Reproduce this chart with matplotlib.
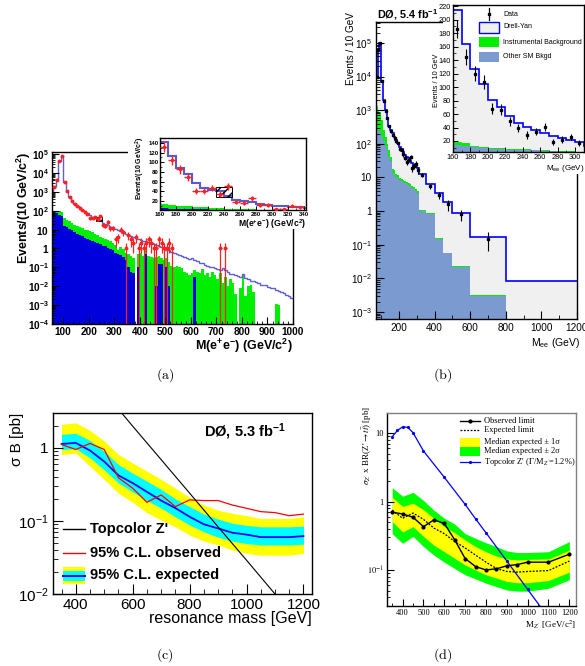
import numpy as np
import matplotlib
matplotlib.use("Agg")
import matplotlib.pyplot as plt
from matplotlib.patches import Rectangle
from matplotlib.lines import Line2D
from matplotlib.ticker import FixedLocator, MultipleLocator, LogLocator, NullFormatter

plt.rcParams['font.family'] = ['Liberation Sans', 'DejaVu Sans']
plt.rcParams['mathtext.fontset'] = 'custom'
plt.rcParams['mathtext.rm'] = 'Liberation Sans'
plt.rcParams['mathtext.it'] = 'Liberation Sans:italic'
plt.rcParams['mathtext.bf'] = 'Liberation Sans:bold'
plt.rcParams['mathtext.sf'] = 'Liberation Sans'
plt.rcParams['xtick.direction'] = 'in'
plt.rcParams['ytick.direction'] = 'in'
plt.rcParams['axes.linewidth'] = 1.0

W, H = 585, 666
SERIF = ['Liberation Serif', 'DejaVu Serif']

# ======================= DATA =======================
# ---- (a) dielectron invariant mass, events per 10 GeV bins from 50 GeV
a_bin_edges = np.arange(50, 1001, 10)
a_mc_total = np.array([
    1000, 2000, 4500, 45000, 75000, 3500, 1100, 550, 330, 230,
    175, 142, 112, 88, 75, 58, 47, 42, 40, 31,
    23, 20, 17, 14.5, 12.5,
    10.5, 9.2, 8.0, 7.0, 6.0, 5.3, 4.6, 4.0, 3.5, 3.1,
    2.8, 2.6, 2.4, 2.2, 2.0, 1.75, 1.5, 1.3, 1.15, 1.0,
    0.88, 0.78, 0.68, 0.6, 0.52, 0.46, 0.41, 0.36, 0.32, 0.28,
    0.33, 0.24, 0.21, 0.18, 0.16, 0.14, 0.125, 0.11, 0.10, 0.09,
    0.085, 0.075, 0.095, 0.07, 0.06, 0.045, 0.042, 0.04, 0.035, 0.032,
    0.045, 0.028, 0.024, 0.02, 0.018, 0.016, 0.014, 0.012, 0.011, 0.012,
    0.009, 0.008, 0.0085, 0.006, 0.0055, 0.0048, 0.0042, 0.0036, 0.003, 0.0025])
a_bkg_sum = np.array([
    90, 95, 95, 92, 88, 40, 32, 27, 22, 18,
    15, 13, 11.5, 10, 9, 8, 7, 6, 5, 4.2,
    3.6, 3.2, 2.8, 2.4, 2.0,
    1.5, 0.8, 1.2, 0.9, 0.6, 0.5, 0.4, 0.3, 0, 0.5,
    0.6, 0.4, 0.8, 0.4, 0.35, 0.3, 0.35, 0.4, 0.3, 0.25,
    0.3, 0.2, 0.12, 0.1, 0.12, 0.1, 0.09, 0.06, 0.05, 0.04,
    0.05, 0.07, 0.06, 0.05, 0.08, 0.04, 0.05, 0.03, 0.06, 0.04,
    0.025, 0.05, 0.015, 0.03, 0.01, 0.025, 0.015, 0.004, 0, 0.008,
    0.04, 0.003, 0.01, 0.012, 0.005, 0, 0, 0, 0, 0,
    0, 0, 0, 0.0012, 0.001, 0, 0, 0, 0, 0])
a_other_sm = np.array([
    70, 75, 72, 60, 55, 16, 14, 11, 9, 7.5,
    6, 5, 4.3, 3.8, 3.3, 2.9, 2.6, 2.3, 2.0, 1.7,
    1.4, 1.3, 1.1, 0.9, 0.8,
    0.6, 0.5, 0.45, 0.35, 0.25, 0.1, 0.06, 0.05, 0, 0.1,
    0, 0, 0.5, 0, 0, 0, 0.01, 0.15, 0.15, 0,
    0.1, 0.01, 0, 0, 0, 0, 0, 0, 0, 0,
    0, 0.03, 0, 0, 0, 0, 0, 0, 0, 0,
    0, 0, 0, 0, 0, 0, 0, 0, 0, 0,
    0, 0, 0, 0, 0, 0, 0, 0, 0, 0,
    0, 0, 0, 0, 0, 0, 0, 0, 0, 0])
a_data = np.array([
    0, 1800, 4200, 42000, 78000, 3300, 1050, 560, 320, 240,
    170, 132, 105, 86, 70, 40, 41, 47, 35, 50,
    18, 16, 26, 12, 12,
    3, 4, 10, 7, 1, 5, 3, 2, 4, 1,
    2, 1, 2, 3, 2, 1, 1, 3, 2, 1,
    1, 2, 1, 0, 0, 0, 0, 0, 0, 0,
    0, 0, 0, 0, 0, 0, 0, 0, 0, 0,
    0, 1, 0, 1, 0, 0, 0, 0, 0, 0,
    0, 0, 0, 0, 0, 0, 0, 0, 0, 0,
    0, 0, 0, 0, 0, 0, 0, 0, 0, 0])
a_syst_box_mass = [230, 250]
a_syst_box_events = [28, 48]
a_xticks = [100, 200, 300, 400, 500, 600, 700, 800, 900, 1000]
a_yticks = [1e-4, 1e-3, 1e-2, 1e-1, 1, 10, 1e2, 1e3, 1e4, 1e5]
a_ytick_labels = [r'$\mathbf{10^{-4}}$', r'$\mathbf{10^{-3}}$', r'$\mathbf{10^{-2}}$',
                  r'$\mathbf{10^{-1}}$', r'$\mathbf{1}$', r'$\mathbf{10}$',
                  r'$\mathbf{10^{2}}$', r'$\mathbf{10^{3}}$', r'$\mathbf{10^{4}}$',
                  r'$\mathbf{10^{5}}$']
a_inset_xticks = [160, 180, 200, 220, 240, 260, 280, 300, 320, 340]
a_inset_yticks = [20, 40, 60, 80, 100, 120, 140]

# ---- (b) dielectron mass, events per 10 GeV, variable bins
b_bin_edges = np.array([70, 80, 90, 100, 110, 120, 130, 140, 150, 160, 170, 180, 190,
                        200, 210, 220, 230, 240, 250, 260, 270, 280, 290, 300, 310,
                        350, 400, 450, 500, 600, 800, 1200])
b_drell_yan = np.array([9000, 60000, 100000, 7000, 2000, 1000, 600, 350, 250,
                        214, 164, 127, 105, 81, 70, 57, 46, 41, 37, 32, 27, 24, 21, 19,
                        13, 6.5, 3.5, 1.9, 0.9, 0.17, 0.0085])
b_bkg_sum = np.array([1300, 1000, 800, 500, 260, 160, 100, 65, 40,
                      18.5, 17, 13, 11.5, 9.5, 9, 8.5, 8, 7.5, 7, 6.3, 5.7, 5.1, 4.6, 4.0,
                      1.1, 0.85, 0.155, 0.057, 0.023, 0.0031, 0])
b_other_sm = np.array([300, 260, 220, 170, 120, 85, 60, 42, 30,
                       14, 12.5, 10.5, 9.5, 8.3, 7.8, 7.3, 6.8, 6.4, 6.0, 5.4, 4.9, 4.4, 3.9, 3.4,
                       1.0, 0.8, 0.15, 0.055, 0.022, 0.003, 0])
b_data = np.array([9500, 62000, 98000, 7200, 1900, 980, 580, 340, 240,
                   186, 145, 120, 107, 68, 66, 49, 39, 29, 34, 41, 19, 22, 26, 17,
                   12, 5.5, 3.0, 1.6, 0.8, 0.15, 0])
b_xticks = [200, 400, 600, 800, 1000, 1200]
b_yticks = [1e-3, 1e-2, 1e-1, 1, 10, 1e2, 1e3, 1e4, 1e5]
b_ytick_labels = [r'$10^{-3}$', r'$10^{-2}$', r'$10^{-1}$', '1', '10',
                  r'$10^{2}$', r'$10^{3}$', r'$10^{4}$', r'$10^{5}$']
b_inset_xticks = [160, 180, 200, 220, 240, 260, 280, 300]
b_inset_yticks = [20, 40, 60, 80, 100, 120, 140, 160, 180, 200, 220]
b_legend_labels = ['Data', 'Drell-Yan', 'Instrumental Background', 'Other SM Bkgd']

# ---- (c) sigma x B limits
c_mass = [350, 400, 450, 500, 550, 600, 650, 700, 750, 800, 850, 900, 950, 1000, 1050, 1100, 1150, 1200]
c_observed = [1.11, 0.95, 1.15, 0.95, 0.39, 0.28, 0.18, 0.227, 0.157, 0.194, 0.19, 0.19, 0.165, 0.149, 0.134, 0.13, 0.118, 0.124]
c_expected = [1.13, 1.17, 0.92, 0.65, 0.42, 0.33, 0.25, 0.19, 0.15, 0.114, 0.09, 0.079, 0.069, 0.065, 0.06, 0.06, 0.06, 0.062]
c_exp_1s_lo = [0.95, 0.97, 0.73, 0.5, 0.33, 0.25, 0.19, 0.15, 0.114, 0.088, 0.071, 0.06, 0.053, 0.049, 0.047, 0.047, 0.047, 0.048]
c_exp_1s_hi = [1.53, 1.58, 1.26, 0.9, 0.59, 0.45, 0.35, 0.27, 0.2, 0.157, 0.124, 0.106, 0.093, 0.087, 0.083, 0.083, 0.083, 0.085]
c_exp_2s_lo = [0.81, 0.85, 0.56, 0.37, 0.24, 0.18, 0.13, 0.103, 0.083, 0.064, 0.053, 0.047, 0.04, 0.036, 0.034, 0.034, 0.034, 0.036]
c_exp_2s_hi = [2.1, 2.2, 1.73, 1.24, 0.81, 0.62, 0.48, 0.37, 0.28, 0.21, 0.165, 0.14, 0.127, 0.118, 0.108, 0.108, 0.108, 0.114]
c_topcolor_mass = [500, 600, 700, 800, 900, 1000, 1100, 1200]
c_topcolor_xsec = [5.8, 1.98, 0.69, 0.24, 0.083, 0.029, 0.010, 0.0035]
c_xticks = [400, 600, 800, 1000, 1200]
c_yticks = [0.01, 0.1, 1]
c_ytick_labels = [r'$10^{-2}$', r'$10^{-1}$', '1']
c_legend_labels = ["Topcolor Z'", '95% C.L. observed', '95% C.L. expected']

# ---- (d) sigma x BR(Z'->ttbar) limits
d_mass = [350, 400, 450, 500, 550, 600, 650, 700, 750, 800, 850, 900, 950, 1000, 1100, 1200]
d_observed = [0.70, 0.66, 0.59, 0.43, 0.54, 0.48, 0.275, 0.147, 0.112, 0.10, 0.104, 0.115, 0.12, 0.13, 0.13, 0.17]
d_expected = [0.75, 0.57, 0.68, 0.55, 0.41, 0.34, 0.26, 0.21, 0.165, 0.13, 0.105, 0.095, 0.093, 0.095, 0.098, 0.135]
d_1s_lo = [0.51, 0.36, 0.43, 0.31, 0.23, 0.185, 0.148, 0.118, 0.1, 0.085, 0.076, 0.068, 0.065, 0.065, 0.07, 0.093]
d_1s_hi = [1.16, 0.85, 0.95, 0.76, 0.57, 0.43, 0.35, 0.275, 0.22, 0.185, 0.16, 0.145, 0.14, 0.143, 0.145, 0.195]
d_2s_lo = [0.34, 0.245, 0.31, 0.22, 0.165, 0.13, 0.105, 0.085, 0.074, 0.064, 0.057, 0.051, 0.049, 0.049, 0.054, 0.072]
d_2s_hi = [1.6, 1.2, 1.37, 1.04, 0.75, 0.57, 0.47, 0.34, 0.29, 0.25, 0.22, 0.19, 0.18, 0.18, 0.185, 0.26]
d_topcolor_mass = [350, 375, 400, 425, 450, 500, 600, 700, 750, 800, 900, 1000, 1100]
d_topcolor_xsec = [8.9, 11.0, 12.4, 12.2, 10.2, 5.5, 2.27, 0.91, 0.56, 0.35, 0.135, 0.052, 0.02]
d_xticks = [400, 500, 600, 700, 800, 900, 1000, 1100, 1200]
d_yticks = [0.1, 1, 10]
d_ytick_labels = [r'$10^{-1}$', '1', '10']
d_legend_labels = ['Observed limit', 'Expected limit', 'Median expected \u00b1 1\u03c3',
                   'Median expected \u00b1 2\u03c3', r"Topcolor Z' ($\Gamma$/M$_{Z'}$=1.2%)"]

# ======================= FIGURE =======================
fig = plt.figure(figsize=(W / 100, H / 100), dpi=100)


def rect(x0, y0, x1, y1):
    return [x0 / W, 1 - y1 / H, (x1 - x0) / W, (y1 - y0) / H]


def ftext(x, y, s, **kw):
    return fig.text(x / W, 1 - y / H, s, **kw)


def fpatch(x0, y0, x1, y1, **kw):
    p = Rectangle((x0 / W, 1 - y1 / H), (x1 - x0) / W, (y1 - y0) / H,
                  transform=fig.transFigure, **kw)
    fig.add_artist(p)
    return p


def fline(xs, ys, **kw):
    ln = Line2D([x / W for x in xs], [1 - y / H for y in ys], transform=fig.transFigure, **kw)
    fig.add_artist(ln)
    return ln


def pos(v):
    return np.clip(np.asarray(v, float), 1e-9, None)


# ---------------- (a) main ----------------
axa = fig.add_axes(rect(52, 152, 293, 324))
axa.set_yscale('log')
axa.stairs(pos(a_bkg_sum), a_bin_edges, fill=True, color='#00ee00', baseline=1e-9)
axa.stairs(pos(a_other_sm), a_bin_edges, fill=True, color='#0000dd', baseline=1e-9)
axa.stairs(a_mc_total, a_bin_edges, color='#6060d0', lw=1.0, baseline=None)
a_ctr = 0.5 * (a_bin_edges[:-1] + a_bin_edges[1:])
sel = a_data > 0
v = a_data[sel]
err = np.sqrt(v)
lo = np.where(v - err > 0, err, v * 0.999999)
axa.errorbar(a_ctr[sel], v, yerr=[lo, err], xerr=5, fmt='o', ms=1.8, color='#ff2020',
             elinewidth=0.9, capsize=0, zorder=5)
axa.add_patch(Rectangle((a_syst_box_mass[0], a_syst_box_events[0]),
                        a_syst_box_mass[1] - a_syst_box_mass[0],
                        a_syst_box_events[1] - a_syst_box_events[0],
                        fill=False, hatch='//////', lw=0.6, ec='black', zorder=4))
axa.set_xlim(56, 1000)
axa.set_ylim(1e-4, 1.28e5)
axa.xaxis.set_major_locator(FixedLocator(a_xticks))
axa.xaxis.set_minor_locator(MultipleLocator(20))
axa.set_xticklabels([str(t) for t in a_xticks], fontweight='bold')
axa.yaxis.set_major_locator(FixedLocator(a_yticks))
axa.yaxis.set_minor_locator(LogLocator(subs=np.arange(2, 10), numticks=20))
axa.yaxis.set_minor_formatter(NullFormatter())
axa.set_yticklabels(a_ytick_labels)
axa.tick_params(which='major', length=5, width=0.8, labelsize=7.2, pad=2)
axa.tick_params(which='minor', length=2.5, width=0.6)
ftext(24, 152, 'Events/(10 GeV/c$^{\\mathbf{2}}$)', rotation=90, ha='center', va='top',
      fontweight='bold', fontsize=9)
ftext(293, 346, r'$\mathbf{M(e^{+}e^{-})\ (GeV/c^{2})}$', ha='right', va='center', fontsize=9)

# ---------------- (a) inset ----------------
fpatch(128, 129, 306, 229, fc='white', ec='none', zorder=1)
axai = fig.add_axes(rect(160, 138, 306, 210))
axai.set_zorder(2)
axai.stairs(a_bkg_sum, a_bin_edges, fill=True, color='#00ee00')
axai.stairs(a_other_sm, a_bin_edges, fill=True, color='#0000dd')
axai.stairs(a_mc_total, a_bin_edges, color='#5a5ad2', lw=1.5, baseline=None)
axai.errorbar(a_ctr[sel], v, yerr=err, xerr=5, fmt='o', ms=1.5, color='#ff2020',
              elinewidth=1.0, capsize=0, zorder=5)
axai.add_patch(Rectangle((a_syst_box_mass[0], a_syst_box_events[0]),
                         a_syst_box_mass[1] - a_syst_box_mass[0],
                         a_syst_box_events[1] - a_syst_box_events[0],
                         fill=False, hatch='////', lw=0.7, ec='black', zorder=4))
axai.set_xlim(160, 343)
axai.set_ylim(1.4, 150)
axai.xaxis.set_major_locator(FixedLocator(a_inset_xticks))
axai.xaxis.set_minor_locator(MultipleLocator(10))
axai.yaxis.set_major_locator(FixedLocator(a_inset_yticks))
axai.yaxis.set_minor_locator(MultipleLocator(10))
axai.set_xticklabels([str(t) for t in a_inset_xticks], fontweight='bold')
axai.set_yticklabels([str(t) for t in a_inset_yticks], fontweight='bold')
axai.tick_params(which='major', length=3, width=0.7, labelsize=4.3, pad=1.2)
axai.tick_params(which='minor', length=1.5, width=0.5)
ftext(140, 168, 'Events/(10 GeV/c$^{\\mathbf{2}}$)', rotation=90, ha='center', va='center',
      fontweight='bold', fontsize=5.0)
ftext(306, 224, r'$\mathbf{M(e^{+}e^{-})\ (GeV/c^{2})}$', ha='right', va='center', fontsize=6.2)

# ---------------- (b) main ----------------
C_DY, C_DYLINE, C_INS, C_OTH = '#f0f0f0', '#0000ff', '#00ee00', '#7b9ad0'
axb = fig.add_axes(rect(376, 22, 577, 319))
axb.set_yscale('log')
axb.stairs(pos(b_drell_yan), b_bin_edges, fill=True, color=C_DY, baseline=1e-9)
axb.stairs(pos(b_bkg_sum), b_bin_edges, fill=True, color=C_INS, baseline=1e-9)
axb.stairs(pos(b_other_sm), b_bin_edges, fill=True, color=C_OTH, baseline=1e-9)
axb.stairs(b_drell_yan, b_bin_edges, color=C_DYLINE, lw=1.2, baseline=None)
b_ctr = 0.5 * (b_bin_edges[:-1] + b_bin_edges[1:])
b_w = (b_bin_edges[1:] - b_bin_edges[:-1]) / 10.0
bs = b_data > 0
b_err = np.sqrt(b_data[bs] * b_w[bs]) / b_w[bs]
axb.errorbar(b_ctr[bs], b_data[bs], yerr=b_err, fmt='s', ms=1.6, color='black',
             elinewidth=0.8, capsize=0, zorder=5)
axb.set_xlim(71, 1200)
axb.set_ylim(6.2e-4, 4.2e5)
axb.xaxis.set_major_locator(FixedLocator(b_xticks))
axb.xaxis.set_minor_locator(MultipleLocator(100))
axb.set_xticklabels([str(t) for t in b_xticks])
axb.yaxis.set_major_locator(FixedLocator(b_yticks))
axb.yaxis.set_minor_locator(LogLocator(subs=np.arange(2, 10), numticks=20))
axb.yaxis.set_minor_formatter(NullFormatter())
axb.set_yticklabels(b_ytick_labels)
axb.tick_params(which='major', length=6, width=0.8, labelsize=7.2, pad=3)
axb.tick_params(which='minor', length=3, width=0.6)
ftext(377, 15, 'DØ, 5.4 fb$^{\\mathbf{-1}}$', ha='left', va='center', fontweight='bold', fontsize=7.8)
ftext(351, 12, 'Events / 10 GeV', rotation=90, ha='center', va='top', fontsize=7.2)
ftext(580, 343, 'M$_{\\rm ee}$ (GeV)', ha='right', va='center', fontsize=7.5)

# ---------------- (b) inset ----------------
fpatch(443, 0, 585, 174, fc='white', ec='none', zorder=1)
axbi = fig.add_axes(rect(453, 5, 584, 152))
axbi.set_zorder(2)
axbi.stairs(b_drell_yan, b_bin_edges, fill=True, color=C_DY)
axbi.stairs(b_bkg_sum, b_bin_edges, fill=True, color=C_INS)
axbi.stairs(b_other_sm, b_bin_edges, fill=True, color=C_OTH)
axbi.stairs(b_drell_yan, b_bin_edges, color=C_DYLINE, lw=1.2, baseline=None)
axbi.errorbar(b_ctr[bs], b_data[bs], yerr=np.sqrt(b_data[bs] * b_w[bs]) / b_w[bs], fmt='s',
              ms=1.4, color='black', elinewidth=0.8, capsize=0, zorder=5)
axbi.set_xlim(160, 310.3)
axbi.set_ylim(3.7, 221.5)
axbi.xaxis.set_major_locator(FixedLocator(b_inset_xticks))
axbi.xaxis.set_minor_locator(MultipleLocator(10))
axbi.yaxis.set_major_locator(FixedLocator(b_inset_yticks))
axbi.yaxis.set_minor_locator(MultipleLocator(10))
axbi.set_xticklabels([str(t) for t in b_inset_xticks])
axbi.set_yticklabels([str(t) for t in b_inset_yticks])
axbi.tick_params(which='major', length=3.5, width=0.7, labelsize=5.3, pad=1.5)
axbi.tick_params(which='minor', length=1.8, width=0.5)
ftext(436, 80, 'Events / 10 GeV', rotation=90, ha='center', va='center', fontsize=5.3)
ftext(584, 168, 'M$_{\\rm ee}$ (GeV)', ha='right', va='center', fontsize=5.8)
# legend of (b)
fline([489, 489], [8, 20], color='black', lw=0.9, zorder=3)
fline([489], [14], color='black', marker='s', ms=1.6, lw=0, zorder=3)
fpatch(479, 22, 499, 33, fc=C_DY, ec=C_DYLINE, lw=1.0, zorder=3)
fpatch(479, 37, 499, 47, fc=C_INS, ec='none', zorder=3)
fpatch(479, 52, 499, 62, fc=C_OTH, ec='none', zorder=3)
for lab, yy in zip(b_legend_labels, [14, 27, 42, 57]):
    ftext(503, yy, lab, ha='left', va='center', fontsize=5.0, zorder=3)

# ---------------- (c) ----------------
axc = fig.add_axes(rect(53, 413, 312, 594))
axc.set_yscale('log')
axc.fill_between(c_mass, c_exp_2s_lo, c_exp_2s_hi, color='#ffff00', lw=0)
axc.fill_between(c_mass, c_exp_1s_lo, c_exp_1s_hi, color='#00ffff', lw=0)
axc.plot(c_mass, c_expected, color='#0000ff', lw=1.3)
axc.plot(c_mass, c_observed, color='#ff0000', lw=0.9)
axc.plot(c_topcolor_mass, c_topcolor_xsec, color='black', lw=0.8)
axc.set_xlim(320, 1230)
axc.set_ylim(0.01, 3.0)
axc.xaxis.set_major_locator(FixedLocator(c_xticks))
axc.xaxis.set_minor_locator(MultipleLocator(50))
axc.set_xticklabels([str(t) for t in c_xticks])
axc.yaxis.set_major_locator(FixedLocator(c_yticks))
axc.yaxis.set_minor_locator(LogLocator(subs=np.arange(2, 10), numticks=20))
axc.yaxis.set_minor_formatter(NullFormatter())
axc.set_yticklabels(c_ytick_labels)
axc.tick_params(which='major', length=7, width=0.8, labelsize=11, pad=3)
axc.tick_params(which='minor', length=3.5, width=0.6)
ftext(204, 432, 'DØ, 5.3 fb$^{\\mathbf{-1}}$', ha='left', va='center', fontweight='bold', fontsize=10.5)
ftext(17, 413, '\u03c3 B [pb]', rotation=90, ha='center', va='top', fontsize=11)
ftext(312, 619, 'resonance mass [GeV]', ha='right', va='center', fontsize=11.5)
# legend of (c)
fline([63, 85], [529, 529], color='black', lw=1.0, zorder=3)
fline([63, 85], [553, 553], color='#ff0000', lw=1.0, zorder=3)
fpatch(63, 567, 85, 584, fc='#ffff00', ec='none', zorder=3)
fpatch(63, 570.5, 85, 580.5, fc='#00ffff', ec='none', zorder=3)
fline([63, 85], [575.5, 575.5], color='#0000ff', lw=1.4, zorder=3)
for lab, yy in zip(c_legend_labels, [529, 553, 575]):
    ftext(90, yy, lab, ha='left', va='center', fontsize=10.5, fontweight='bold', zorder=3)

# ---------------- (d) ----------------
axd = fig.add_axes(rect(387, 413, 576, 606))
axd.set_yscale('log')
axd.fill_between(d_mass, d_2s_lo, d_2s_hi, color='#00ff00', lw=0)
axd.fill_between(d_mass, d_1s_lo, d_1s_hi, color='#ffff00', lw=0)
axd.plot(d_mass, d_expected, color='black', lw=0.9, ls=(0, (1.5, 1.2)))
axd.plot(d_mass, d_observed, color='black', lw=1.0, marker='o', ms=2.0)
axd.plot(d_topcolor_mass, d_topcolor_xsec, color='#0000ff', lw=0.9, marker='o', ms=1.3)
axd.set_xlim(325, 1232)
axd.set_ylim(0.0297, 19.8)
axd.xaxis.set_major_locator(FixedLocator(d_xticks))
axd.xaxis.set_minor_locator(MultipleLocator(50))
axd.set_xticklabels([str(t) for t in d_xticks], family=SERIF)
axd.yaxis.set_major_locator(FixedLocator(d_yticks))
axd.yaxis.set_minor_locator(LogLocator(subs=np.arange(2, 10), numticks=20))
axd.yaxis.set_minor_formatter(NullFormatter())
axd.set_yticklabels(d_ytick_labels, family=SERIF, math_fontfamily='stix')
axd.tick_params(which='major', length=5, width=0.8, labelsize=6, pad=2.5)
axd.tick_params(which='minor', length=2.5, width=0.6)
for s in ['top', 'right']:
    axd.spines[s].set_color('#808080')
ftext(367, 445, r"$\sigma_{Z'}$ x BR(Z'$\rightarrow t\bar{t}$) [pb]", rotation=90, ha='center',
      va='center', fontsize=6.5, family=SERIF, math_fontfamily='stix')
ftext(576, 625, r"M$_{Z'}$ [GeV/c$^{2}$]", ha='right', va='center', fontsize=6.5,
      family=SERIF, math_fontfamily='stix')
# legend of (d)
fline([460, 480], [421, 421], color='black', lw=1.0, zorder=3)
fline([470], [421], color='black', marker='o', ms=2.0, lw=0, zorder=3)
fline([460, 480], [430, 430], color='black', lw=0.9, ls=(0, (1.5, 1.2)), zorder=3)
fpatch(460, 437.5, 480, 446.5, fc='#ffff00', ec='none', zorder=3)
fpatch(460, 446.5, 480, 455.5, fc='#00ff00', ec='none', zorder=3)
fline([460, 480], [462, 462], color='#0000ff', lw=0.9, zorder=3)
fline([470], [462], color='#0000ff', marker='o', ms=1.3, lw=0, zorder=3)
for lab, yy in zip(d_legend_labels, [421, 430, 442, 451, 462]):
    ftext(484, yy, lab, ha='left', va='center', fontsize=6, family=SERIF,
          math_fontfamily='stix', zorder=3)

# ---------------- captions ----------------
for lab, (xx, yy) in zip(['(a)', '(b)', '(c)', '(d)'],
                         [(165, 375), (443, 375), (165, 655), (443, 655)]):
    ftext(xx, yy, r'$\mathrm{' + lab + '}$', ha='center', va='center', fontsize=10,
          math_fontfamily='cm')

fig.savefig('out.png', dpi=100)
